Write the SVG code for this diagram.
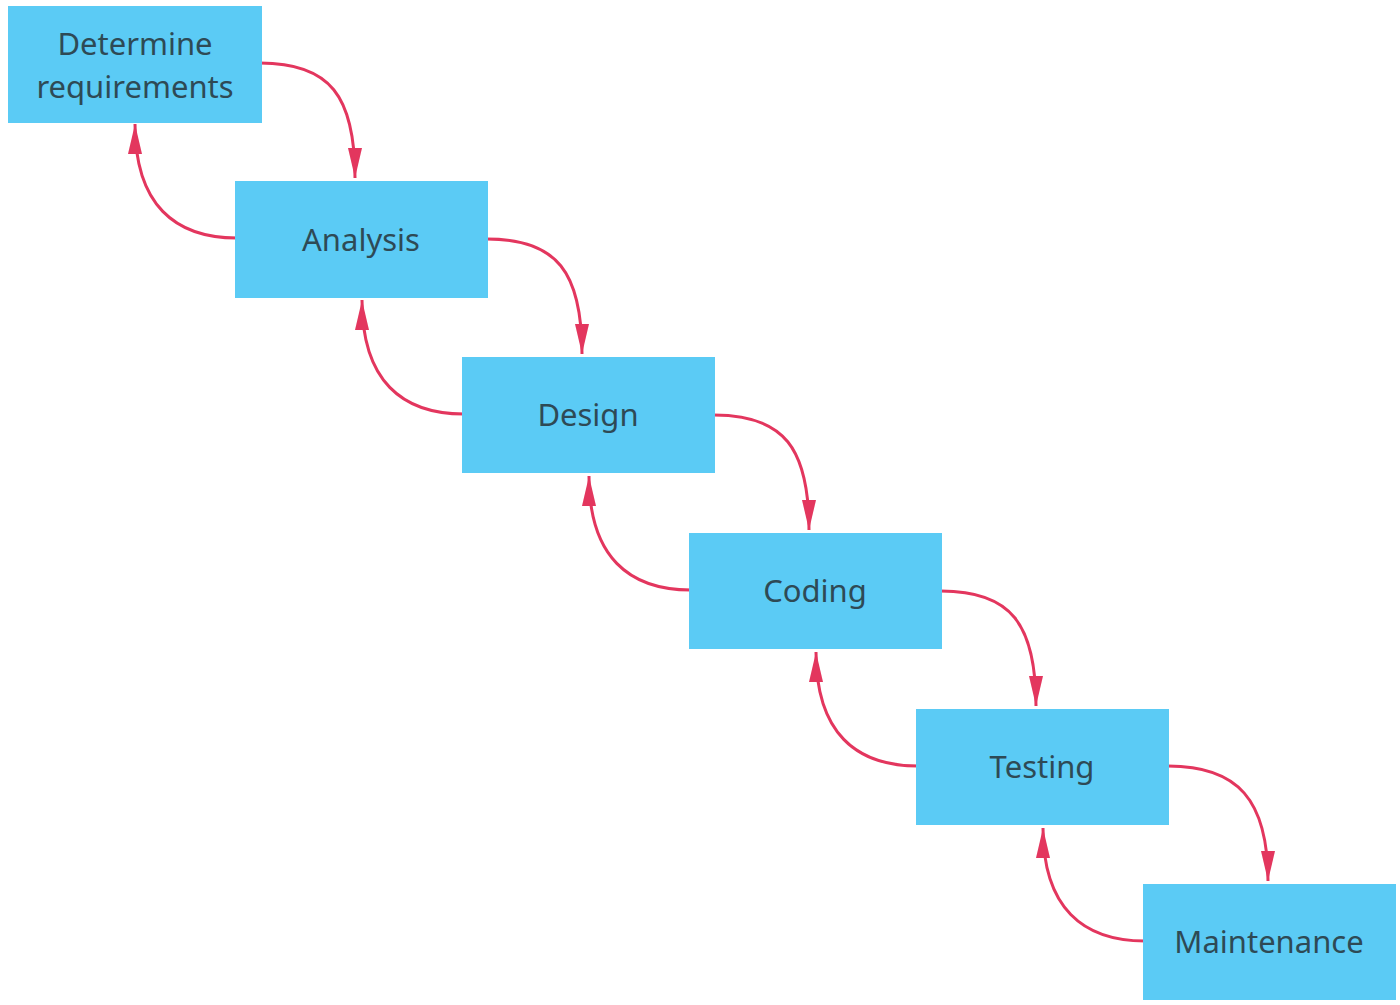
<svg xmlns="http://www.w3.org/2000/svg" width="1400" height="1005" viewBox="0 0 1400 1005">
<style>
.box{fill:#5BCBF5;}
.lbl{font-family:"Noto Sans","Open Sans",sans-serif;font-size:31px;fill:#2E4A55;text-anchor:middle;}
.arr{fill:none;stroke:#E3365E;stroke-width:3;marker-end:url(#ah);}
</style>
<defs>
<marker id="ah" markerUnits="userSpaceOnUse" markerWidth="32" markerHeight="16" refX="30" refY="7" orient="auto">
<path d="M0,0 L30,7 L0,14 z" fill="#E3365E"/>
</marker>
</defs>
<rect width="1400" height="1005" fill="#ffffff"/>
<g id="connectors">
<path class="arr" d="M260,63 C330,63 355,96 355,178"/>
<path class="arr" d="M487,239 C557,239 582,272 582,354"/>
<path class="arr" d="M714,415 C784,415 809,448 809,530"/>
<path class="arr" d="M941,591 C1011,591 1036,624 1036,706"/>
<path class="arr" d="M1168,766 C1238,766 1268,800 1268,881"/>
<path class="arr" d="M237,238 C175,238 135,205 135,124"/>
<path class="arr" d="M464,414 C402,414 362,381 362,300"/>
<path class="arr" d="M691,590 C629,590 589,557 589,476"/>
<path class="arr" d="M918,766 C856,766 816,733 816,652"/>
<path class="arr" d="M1145,941 C1083,941 1043,908 1043,828"/>
</g>
<g id="n1"><rect class="box" x="8" y="6" width="254" height="117"/><text class="lbl" x="135" y="55">Determine</text><text class="lbl" x="135" y="98">requirements</text></g>
<g id="n2"><rect class="box" x="235" y="181" width="253" height="117"/><text class="lbl" x="361" y="251">Analysis</text></g>
<g id="n3"><rect class="box" x="462" y="357" width="253" height="116"/><text class="lbl" x="588" y="426">Design</text></g>
<g id="n4"><rect class="box" x="689" y="533" width="253" height="116"/><text class="lbl" x="815" y="602">Coding</text></g>
<g id="n5"><rect class="box" x="916" y="709" width="253" height="116"/><text class="lbl" x="1042" y="778">Testing</text></g>
<g id="n6"><rect class="box" x="1143" y="884" width="253" height="116"/><text class="lbl" x="1269" y="953">Maintenance</text></g>
</svg>
